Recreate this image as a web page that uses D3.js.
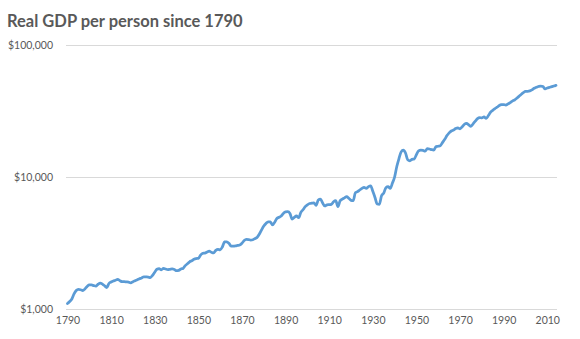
<!DOCTYPE html>
<html>
<head>
<meta charset="utf-8">
<script src="https://cdn.jsdelivr.net/npm/d3@7"></script>
<style>
  html, body { margin: 0; padding: 0; background: #fff; }
  svg { display: block; }
</style>
</head>
<body>
<svg id="chart" width="580" height="339"></svg>
<script>
// Real GDP per person, annual, 1790-2014 (chained dollars)
const startYear = 1790;
const gdpPerPerson = [
  1100, 1140, 1190, 1300, 1380, 1410, 1400, 1380, 1420, 1480,   // 1790s
  1520, 1520, 1505, 1490, 1540, 1570, 1545, 1500, 1455, 1560,   // 1800s
  1600, 1630, 1650, 1680, 1640, 1610, 1610, 1605, 1600, 1580,   // 1810s
  1610, 1640, 1665, 1695, 1720, 1755, 1750, 1745, 1730, 1800,   // 1820s
  1900, 2000, 2020, 1980, 2030, 2010, 1990, 2000, 2010, 1990,   // 1830s
  1950, 1960, 2010, 2030, 2130, 2200, 2280, 2320, 2380, 2410,   // 1840s
  2420, 2560, 2640, 2650, 2700, 2740, 2690, 2660, 2780, 2830,   // 1850s
  2810, 2950, 3220, 3230, 3150, 3000, 3000, 3010, 3030, 3050,   // 1860s
  3150, 3300, 3370, 3360, 3330, 3350, 3420, 3500, 3700, 3980,   // 1870s
  4250, 4450, 4580, 4570, 4330, 4550, 4850, 4950, 5070, 5300,   // 1880s
  5440, 5460, 5300, 4800, 4950, 5070, 4920, 5400, 5650, 5960,   // 1890s
  6150, 6300, 6330, 6370, 6100, 6690, 6810, 6350, 6030, 6150,   // 1900s
  6180, 6210, 6500, 6610, 5960, 6600, 6800, 6950, 7100, 6900,   // 1910s
  6650, 6610, 7600, 7740, 7970, 8200, 8350, 8210, 8450, 8550,   // 1920s
  7800, 7000, 6250, 6210, 7200, 7550, 8300, 8450, 8210, 9000,   // 1930s
  10000, 12000, 13800, 15500, 16000, 15200, 13500, 13270, 13600, 13700, // 1940s
  14800, 15800, 16000, 15900, 15700, 16400, 16300, 16100, 16000, 17000, // 1950s
  17100, 17300, 18300, 19300, 20600, 21600, 22300, 22700, 23300, 23600, // 1960s
  23200, 24000, 25100, 25500, 24800, 24200, 25300, 26500, 27700, 28200, // 1970s
  28000, 28500, 27800, 29200, 31000, 32000, 33000, 33800, 34800, 35300, // 1980s
  35400, 35000, 35800, 36600, 37600, 38300, 39500, 40800, 42200, 43500, // 1990s
  44600, 44600, 44900, 45800, 47000, 47800, 48500, 48900, 48500, 46500, // 2000s
  47300, 47800, 48400, 48900, 49500                                     // 2010s
];
const years = gdpPerPerson.map((_, i) => startYear + i);

const yTickValues = [1000, 10000, 100000];
const xTickValues = [1790, 1810, 1830, 1850, 1870, 1890, 1910, 1930, 1950, 1970, 1990, 2010];
const titleText = "Real GDP per person since 1790";

const svg = d3.select("#chart");
const fontFamily = "Lato, 'Open Sans', 'Liberation Sans', sans-serif";
const gray = "#595959";

const plot = { left: 66, right: 557, top: 45, bottom: 309 };

const x = d3.scaleLinear()
  .domain([1790, 2014])
  .range([67.5, 556]);

const y = d3.scaleLog()
  .domain([1000, 100000])
  .range([plot.bottom, plot.top]);

// Title
svg.append("text")
  .attr("x", 7)
  .attr("y", 26.5)
  .attr("font-family", fontFamily)
  .attr("font-weight", 700)
  .attr("font-size", 16.5)
  .attr("fill", gray)
  .text(titleText);

// Horizontal gridlines
svg.append("g")
  .selectAll("line")
  .data(yTickValues)
  .join("line")
  .attr("x1", plot.left)
  .attr("x2", plot.right)
  .attr("y1", d => Math.round(y(d)) + 0.5)
  .attr("y2", d => Math.round(y(d)) + 0.5)
  .attr("stroke", "#d9d9d9")
  .attr("stroke-width", 1.2);

// Y axis labels
const yAxis = d3.axisLeft(y)
  .tickValues(yTickValues)
  .tickSize(0)
  .tickPadding(0)
  .tickFormat(d => "$" + d3.format(",")(d));

svg.append("g")
  .attr("transform", `translate(53,0)`)
  .call(yAxis)
  .call(g => g.select(".domain").remove())
  .call(g => g.selectAll("text")
    .attr("font-family", fontFamily)
    .attr("font-size", 10.5)
    .attr("fill", gray));

// X axis labels
const xAxis = d3.axisBottom(x)
  .tickValues(xTickValues)
  .tickSize(0)
  .tickPadding(0)
  .tickFormat(d3.format("d"));

svg.append("g")
  .attr("transform", `translate(0,317)`)
  .call(xAxis)
  .call(g => g.select(".domain").remove())
  .call(g => g.selectAll("text")
    .attr("font-family", fontFamily)
    .attr("font-size", 10.5)
    .attr("fill", gray));

// Series line
const line = d3.line()
  .x((d, i) => x(years[i]))
  .y(d => y(d))
  .curve(d3.curveMonotoneX);

svg.append("path")
  .datum(gdpPerPerson)
  .attr("d", line)
  .attr("fill", "none")
  .attr("stroke", "#5b9bd5")
  .attr("stroke-width", 2.75)
  .attr("stroke-linejoin", "round")
  .attr("stroke-linecap", "round");
</script>
</body>
</html>
